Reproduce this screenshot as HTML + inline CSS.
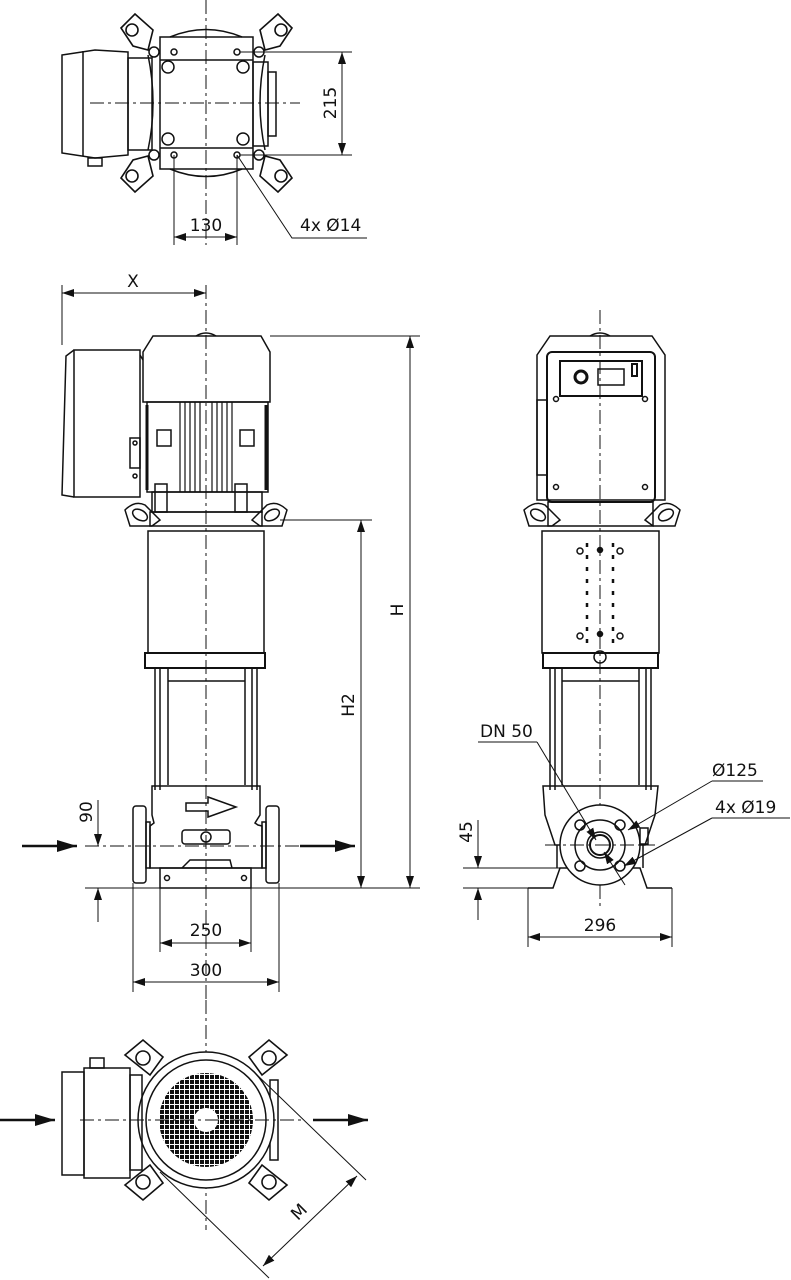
<!DOCTYPE html>
<html><head><meta charset="utf-8"><style>
html,body{margin:0;padding:0;background:#fff}
svg{display:block}
text{font-family:"DejaVu Sans","Liberation Sans",sans-serif;font-size:17px;fill:#111}
</style></head><body>
<svg width="791" height="1280" viewBox="0 0 791 1280" xmlns="http://www.w3.org/2000/svg">
<defs>
<marker id="a" viewBox="0 0 12 8" refX="12" refY="4" markerWidth="12" markerHeight="8" orient="auto-start-reverse" markerUnits="userSpaceOnUse"><path d="M0,0 L12,4 L0,8 Z" fill="#111"/></marker>
<marker id="b" viewBox="0 0 20 12" refX="20" refY="6" markerWidth="22" markerHeight="12" orient="auto" markerUnits="userSpaceOnUse"><path d="M0,0 L20,6 L0,12 Z" fill="#111"/></marker>
<pattern id="g" width="5" height="5" patternUnits="userSpaceOnUse"><rect width="5" height="5" fill="#fff"/><rect width="4" height="4" fill="#111"/></pattern>
</defs>
<g fill="none" stroke="#111" stroke-width="1.5">

<!-- ===== TOP VIEW ===== -->
<line x1="206" y1="0" x2="206" y2="245" stroke-dasharray="14,4,3,4" stroke-width="1"/>
<line x1="90" y1="103" x2="300" y2="103" stroke-dasharray="14,4,3,4" stroke-width="1"/>
<path d="M170,37 Q206,22 242,37 M170,169 Q206,184 242,169"/>
<rect x="160" y="37" width="93" height="132"/>
<line x1="160" y1="60" x2="253" y2="60"/><line x1="160" y1="148" x2="253" y2="148"/>
<circle cx="168" cy="67" r="6"/><circle cx="243" cy="67" r="6"/><circle cx="168" cy="139" r="6"/><circle cx="243" cy="139" r="6"/>
<circle cx="174" cy="52" r="3"/><circle cx="237" cy="52" r="3"/><circle cx="174" cy="155" r="3"/><circle cx="237" cy="155" r="3"/>
<path d="M62,55 L95,50 L128,52 L128,155 L95,158 L62,153 Z"/><line x1="83" y1="51" x2="83" y2="156"/>
<rect x="128" y="58" width="24" height="92"/><path d="M88,158 h14 v8 h-14 z"/>
<path d="M148,55 Q158,103 148,150 M265,55 Q255,103 265,150"/>
<rect x="253" y="62" width="15" height="84"/><rect x="268" y="72" width="8" height="64"/>
<g stroke-width="1.6">
<path d="M121,28 L135,14 L153,30 L148,50 L133,46 Z"/><circle cx="132" cy="30" r="6"/>
<path d="M292,28 L278,14 L260,30 L265,50 L280,46 Z"/><circle cx="281" cy="30" r="6"/>
<path d="M121,178 L135,192 L153,176 L148,156 L133,160 Z"/><circle cx="132" cy="176" r="6"/>
<path d="M292,178 L278,192 L260,176 L265,156 L280,160 Z"/><circle cx="281" cy="176" r="6"/>
</g>
<circle cx="154" cy="52" r="5"/><circle cx="259" cy="52" r="5"/><circle cx="154" cy="155" r="5"/><circle cx="259" cy="155" r="5"/>
<g stroke-width="1">
<line x1="240" y1="52" x2="352" y2="52"/><line x1="240" y1="155" x2="352" y2="155"/>
<line x1="342" y1="52" x2="342" y2="155" marker-start="url(#a)" marker-end="url(#a)"/>
<line x1="174" y1="155" x2="174" y2="245"/><line x1="237" y1="155" x2="237" y2="245"/>
<line x1="174" y1="237" x2="237" y2="237" marker-start="url(#a)" marker-end="url(#a)"/>
<polyline points="237,155 292,238 367,238"/>
</g>

<!-- ===== SIDE VIEW ===== -->
<line x1="206" y1="285" x2="206" y2="1000" stroke-dasharray="14,4,3,4" stroke-width="1"/>
<g stroke-width="1">
<line x1="62" y1="285" x2="62" y2="345"/>
<line x1="62" y1="293" x2="206" y2="293" marker-start="url(#a)" marker-end="url(#a)"/>
</g>
<path d="M196,336 Q206,330 216,336"/>
<path d="M143,352 L153,336 L261,336 L270,352 L270,402 L143,402 Z"/>
<rect x="147" y="402" width="121" height="90"/>
<g stroke-width="1.2"><line x1="180" y1="402" x2="180" y2="492"/><line x1="185" y1="402" x2="185" y2="492"/><line x1="190" y1="402" x2="190" y2="492"/><line x1="195" y1="402" x2="195" y2="492"/><line x1="200" y1="402" x2="200" y2="492"/><line x1="212" y1="402" x2="212" y2="492"/><line x1="217" y1="402" x2="217" y2="492"/><line x1="222" y1="402" x2="222" y2="492"/><line x1="227" y1="402" x2="227" y2="492"/><line x1="232" y1="402" x2="232" y2="492"/></g>
<rect x="157" y="430" width="14" height="16"/><rect x="240" y="430" width="14" height="16"/>
<path d="M147,405 v85 M266,405 v85" stroke-width="3"/>
<path d="M74,350 L140,350 L140,497 L74,497 Z"/><path d="M74,350 L66,356 L62,495 L74,497"/>
<path d="M140,355 L143,360 M130,438 h10 v30 h-10 z"/>
<circle cx="135" cy="443" r="2"/><circle cx="135" cy="476" r="2"/>
<rect x="152" y="492" width="110" height="20"/><rect x="155" y="484" width="12" height="28"/><rect x="235" y="484" width="12" height="28"/>
<path d="M125,510 Q135,500 145,505 L160,520 L152,526 L130,526 Z"/><ellipse cx="140" cy="515" rx="8" ry="5" transform="rotate(30 140 515)"/>
<path d="M287,510 Q277,500 267,505 L252,520 L260,526 L282,526 Z"/><ellipse cx="272" cy="515" rx="8" ry="5" transform="rotate(-30 272 515)"/>
<rect x="150" y="512" width="112" height="14"/>
<rect x="148" y="531" width="116" height="122"/>
<rect x="145" y="653" width="120" height="15" stroke-width="2"/>
<line x1="155" y1="668" x2="155" y2="790"/><line x1="160" y1="668" x2="160" y2="790"/><line x1="168" y1="668" x2="168" y2="785"/>
<line x1="245" y1="668" x2="245" y2="785"/><line x1="252" y1="668" x2="252" y2="790"/><line x1="257" y1="668" x2="257" y2="790"/>
<line x1="168" y1="681" x2="245" y2="681"/>
<path d="M152,786 L260,786 L260,815 L255,823 L258,825 L262,826 L262,868 L150,868 L150,826 L154,823 L152,815 Z"/>
<rect x="133" y="806" width="13" height="77" rx="3"/><rect x="146" y="822" width="4" height="46"/>
<rect x="266" y="806" width="13" height="77" rx="3"/><rect x="262" y="822" width="4" height="46"/>
<path d="M186,803 h22 v-6 l28,10 l-28,10 v-6 h-22 z"/>
<rect x="182" y="830" width="48" height="14" rx="3"/><circle cx="206" cy="837" r="5"/>
<path d="M182,868 L190,860 L230,860 L232,868"/>
<rect x="160" y="868" width="91" height="20"/>
<circle cx="167" cy="878" r="2.5"/><circle cx="244" cy="878" r="2.5"/>
<line x1="85" y1="846" x2="300" y2="846" stroke-dasharray="14,4,3,4" stroke-width="1"/>
<g stroke-width="1">
<line x1="270" y1="336" x2="420" y2="336"/><line x1="280" y1="520" x2="372" y2="520"/>
<line x1="85" y1="888" x2="420" y2="888"/>
<line x1="410" y1="336" x2="410" y2="888" marker-start="url(#a)" marker-end="url(#a)"/>
<line x1="361" y1="520" x2="361" y2="888" marker-start="url(#a)" marker-end="url(#a)"/>
<line x1="98" y1="800" x2="98" y2="846" marker-end="url(#a)"/>
<line x1="98" y1="922" x2="98" y2="888" marker-end="url(#a)"/>
<line x1="160" y1="888" x2="160" y2="952"/><line x1="251" y1="888" x2="251" y2="952"/>
<line x1="160" y1="943" x2="251" y2="943" marker-start="url(#a)" marker-end="url(#a)"/>
<line x1="133" y1="883" x2="133" y2="992"/><line x1="279" y1="883" x2="279" y2="992"/>
<line x1="133" y1="982" x2="279" y2="982" marker-start="url(#a)" marker-end="url(#a)"/>
</g>
<line x1="22" y1="846" x2="77" y2="846" stroke-width="2.5" marker-end="url(#b)"/>
<line x1="300" y1="846" x2="355" y2="846" stroke-width="2.5" marker-end="url(#b)"/>

<!-- ===== FRONT VIEW ===== -->
<line x1="600" y1="310" x2="600" y2="910" stroke-dasharray="14,4,3,4" stroke-width="1"/>
<path d="M590,336 Q600,330 610,336"/>
<path d="M537,355 L550,336 L652,336 L665,355 L665,500 L537,500 Z"/>
<rect x="547" y="352" width="108" height="150" rx="5" stroke-width="2"/>
<rect x="560" y="361" width="82" height="35" stroke-width="2"/>
<circle cx="581" cy="377" r="6" stroke-width="3"/><rect x="598" y="369" width="26" height="16"/><rect x="632" y="364" width="5" height="12" stroke-width="2"/>
<circle cx="556" cy="399" r="2.5"/><circle cx="645" cy="399" r="2.5"/><circle cx="556" cy="487" r="2.5"/><circle cx="645" cy="487" r="2.5"/>
<rect x="537" y="400" width="10" height="75"/>
<path d="M524,510 Q535,500 545,505 L560,520 L552,526 L529,526 Z"/><ellipse cx="538" cy="515" rx="8" ry="5" transform="rotate(30 538 515)"/>
<path d="M680,510 Q670,500 660,505 L645,520 L653,526 L675,526 Z"/><ellipse cx="666" cy="515" rx="8" ry="5" transform="rotate(-30 666 515)"/>
<rect x="548" y="502" width="105" height="24"/>
<rect x="542" y="531" width="117" height="122"/>
<path d="M587,543 v4 M587,555 v4 M587,567 v4 M587,579 v4 M587,591 v4 M587,603 v4 M587,615 v4 M587,627 v4 M587,639 v4 M613,543 v4 M613,555 v4 M613,567 v4 M613,579 v4 M613,591 v4 M613,603 v4 M613,615 v4 M613,627 v4 M613,639 v4" stroke-width="2.5"/>
<circle cx="580" cy="551" r="3"/><circle cx="620" cy="551" r="3"/><circle cx="580" cy="636" r="3"/><circle cx="620" cy="636" r="3"/>
<circle cx="600" cy="550" r="2.5" fill="#111"/><circle cx="600" cy="634" r="2.5" fill="#111"/>
<circle cx="600" cy="657" r="6"/>
<rect x="543" y="653" width="115" height="15" stroke-width="2"/>
<line x1="550" y1="668" x2="550" y2="790"/><line x1="555" y1="668" x2="555" y2="790"/><line x1="562" y1="668" x2="562" y2="785"/>
<line x1="639" y1="668" x2="639" y2="785"/><line x1="646" y1="668" x2="646" y2="790"/><line x1="651" y1="668" x2="651" y2="790"/>
<line x1="562" y1="681" x2="639" y2="681"/>
<path d="M543,786 L658,786 L655,815 L645,845 L555,845 L545,815 Z"/>
<path d="M557,845 L557,868 M643,845 L643,868"/>
<path d="M528,888 L553,888 L560,868 L640,868 L647,888 L672,888"/>
<circle cx="600" cy="845" r="40" fill="#fff"/><circle cx="600" cy="845" r="25"/><circle cx="600" cy="845" r="13"/><circle cx="600" cy="845" r="10" stroke-width="2"/>
<circle cx="580" cy="825" r="5"/><circle cx="620" cy="825" r="5"/><circle cx="580" cy="866" r="5"/><circle cx="620" cy="866" r="5"/>
<rect x="640" y="828" width="8" height="16"/>
<line x1="545" y1="845" x2="655" y2="845" stroke-dasharray="14,4,3,4" stroke-width="1"/>
<g stroke-width="1">
<polyline points="478,742 537,742"/><line x1="537" y1="742" x2="596" y2="840" marker-end="url(#a)"/>
<line x1="625" y1="885" x2="604" y2="852" marker-end="url(#a)"/>
<line x1="712" y1="781" x2="763" y2="781"/><line x1="712" y1="781" x2="628" y2="830" marker-end="url(#a)"/>
<line x1="712" y1="818" x2="790" y2="818"/><line x1="712" y1="818" x2="624" y2="866" marker-end="url(#a)"/>
<line x1="463" y1="868" x2="560" y2="868"/><line x1="463" y1="888" x2="528" y2="888"/>
<line x1="478" y1="820" x2="478" y2="868" marker-end="url(#a)"/>
<line x1="478" y1="920" x2="478" y2="888" marker-end="url(#a)"/>
<line x1="528" y1="888" x2="528" y2="947"/><line x1="672" y1="888" x2="672" y2="947"/>
<line x1="528" y1="937" x2="672" y2="937" marker-start="url(#a)" marker-end="url(#a)"/>
</g>

<!-- ===== BOTTOM VIEW ===== -->
<line x1="206" y1="1000" x2="206" y2="1230" stroke-dasharray="14,4,3,4" stroke-width="1"/>
<g stroke-width="1.6">
<path d="M125,1055 L143,1040 L163,1057 L150,1075 Z"/><circle cx="143" cy="1058" r="7"/>
<path d="M287,1055 L269,1040 L249,1057 L262,1075 Z"/><circle cx="269" cy="1058" r="7"/>
<path d="M125,1185 L143,1200 L163,1183 L150,1165 Z"/><circle cx="143" cy="1182" r="7"/>
<path d="M287,1185 L269,1200 L249,1183 L262,1165 Z"/><circle cx="269" cy="1182" r="7"/>
</g>
<rect x="270" y="1080" width="8" height="80"/>
<circle cx="206" cy="1120" r="68" fill="#fff"/>
<circle cx="206" cy="1120" r="60"/>
<circle cx="206" cy="1120" r="47" fill="url(#g)" stroke="none"/>
<circle cx="206" cy="1120" r="12" fill="#fff" stroke="none"/>
<rect x="62" y="1072" width="22" height="103"/><rect x="84" y="1068" width="46" height="110"/>
<rect x="130" y="1075" width="12" height="95"/>
<rect x="90" y="1058" width="14" height="10"/>
<line x1="80" y1="1120" x2="305" y2="1120" stroke-dasharray="14,4,3,4" stroke-width="1"/>
<line x1="0" y1="1120" x2="55" y2="1120" stroke-width="2.5" marker-end="url(#b)"/>
<line x1="313" y1="1120" x2="368" y2="1120" stroke-width="2.5" marker-end="url(#b)"/>
<g stroke-width="1">
<line x1="255" y1="1073" x2="366" y2="1180"/><line x1="160" y1="1172" x2="269" y2="1278"/>
<line x1="357" y1="1176" x2="263" y2="1266" marker-start="url(#a)" marker-end="url(#a)"/>
</g>
</g>

<!-- ===== TEXT ===== -->
<text x="206" y="231" text-anchor="middle">130</text>
<text x="300" y="231">4x Ø14</text>
<text transform="translate(336,103) rotate(-90)" text-anchor="middle">215</text>
<text x="133" y="287" text-anchor="middle">X</text>
<text transform="translate(403,610) rotate(-90)" text-anchor="middle">H</text>
<text transform="translate(354,705) rotate(-90)" text-anchor="middle">H2</text>
<text transform="translate(92,812) rotate(-90)" text-anchor="middle">90</text>
<text x="206" y="936" text-anchor="middle">250</text>
<text x="206" y="976" text-anchor="middle">300</text>
<text x="480" y="737">DN 50</text>
<text x="712" y="776">Ø125</text>
<text x="715" y="813">4x Ø19</text>
<text transform="translate(472,832) rotate(-90)" text-anchor="middle">45</text>
<text x="600" y="931" text-anchor="middle">296</text>
<text transform="translate(303,1216) rotate(-45)" text-anchor="middle">M</text>
</svg>
</body></html>
